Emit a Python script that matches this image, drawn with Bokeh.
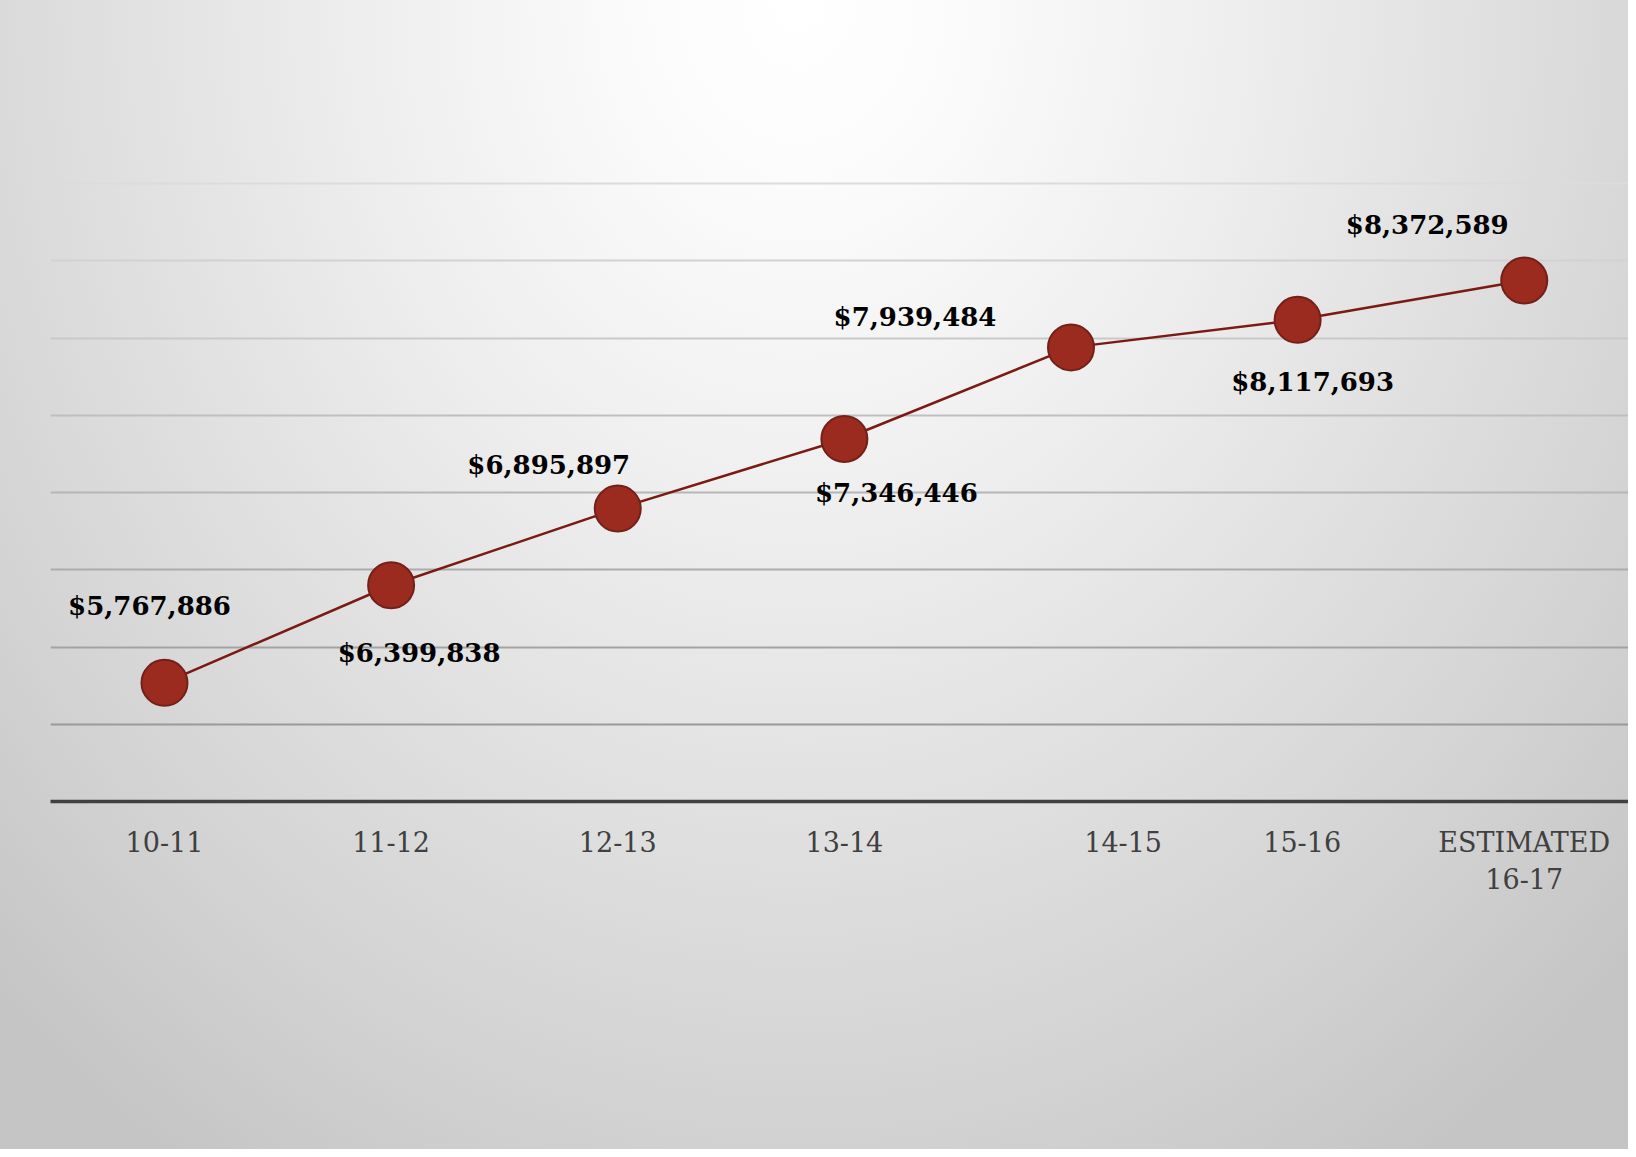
from bokeh.plotting import figure
from bokeh.models import ColumnDataSource, Range1d, FixedTicker, CustomJSTickFormatter, Grid
from bokeh.core.properties import value
from bokeh.embed import file_html
from bokeh.resources import INLINE

# ---- data ----
years = ["10-11", "11-12", "12-13", "13-14", "14-15", "15-16", "ESTIMATED\n16-17"]
revenue = [5767886, 6399838, 6895897, 7346446, 7939484, 8117693, 8372589]
grid_values = [5500000, 6000000, 6500000, 7000000, 7500000, 8000000, 8500000, 9000000]

# ---- layout helpers (screen offsets of labels, tick shifts) ----
label_dx = [-15, 28, -69, 52, -156, 15, -97]
label_dy = [-77, 68, -44, 54, -30, 62, -55]
tick_shift = [0, 0, 0, 0, 0.23, 0.02, 0]

idx = list(range(len(years)))
src = ColumnDataSource(dict(
    x=idx, y=revenue,
    lab=[f"${v:,}" for v in revenue],
    dx=label_dx, dy=label_dy,
))

p = figure(width=1628, height=1149, output_backend="svg", toolbar_location=None,
           x_range=Range1d(-0.503, 6.46), y_range=Range1d(5000000, 10133000),
           min_border_left=50, min_border_right=0, min_border_top=8, min_border_bottom=348)

p.background_fill_alpha = 0
p.border_fill_alpha = 0
p.outline_line_color = None
p.styles = {
    "background": "radial-gradient(ellipse 1150px 1380px at 49% 0%, #ffffff 0%, #fbfbfb 14%, #eeeeee 38%, #e0e0e0 60%, #d2d2d2 82%, #c5c5c5 100%)",
}

p.xgrid.visible = False
p.ygrid.visible = False
p.yaxis.visible = False

# gridlines, darker toward bottom
n = len(grid_values)
for i, gv in enumerate(grid_values):
    t = i / (n - 1)
    c = int(0x9a + (0xdc - 0x9a) * t)
    col = "#%02x%02x%02x" % (c, c, c)
    p.add_layout(Grid(dimension=1, ticker=FixedTicker(ticks=[gv]),
                      grid_line_color=col, grid_line_width=2))

ax = p.xaxis[0]
ax.ticker = FixedTicker(ticks=[i + s for i, s in zip(idx, tick_shift)])
ax.formatter = CustomJSTickFormatter(args=dict(labels=years),
                                     code="return labels[Math.round(tick)];")
ax.axis_line_color = "#404040"
ax.axis_line_width = 3.5
ax.major_tick_line_color = None
ax.minor_tick_line_color = None
ax.major_label_text_font = "DejaVu Serif"
ax.major_label_text_font_size = "27px"
ax.major_label_text_color = "#404040"
ax.major_label_standoff = 19

p.line("x", "y", source=src, line_color="#7b1a12", line_width=2.5)
p.scatter("x", "y", source=src, size=46, fill_color="#9b2a1f",
          line_color="#74201a", line_width=2)

p.text("x", "y", text="lab", source=src, x_offset="dx", y_offset="dy",
       text_font=value("DejaVu Serif"), text_font_style="bold",
       text_font_size="26px", text_color="#000000",
       text_align="center", text_baseline="middle")

open("out.html", "w").write(file_html(p, INLINE))
